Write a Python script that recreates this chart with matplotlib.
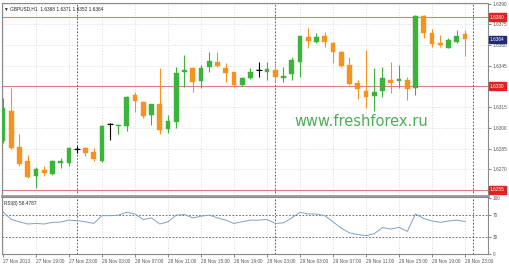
import matplotlib
matplotlib.use('Agg')
import matplotlib.pyplot as plt
import matplotlib.transforms as mtransforms
import numpy as np

plt.rcParams['font.family'] = ['Liberation Sans', 'DejaVu Sans']

# GBPUSD H1 bars, 27 Nov 15:00 .. 29 Nov 23:00
opens = [1.62907, 1.63125, 1.62863, 1.62761, 1.62652, 1.62696, 1.62667, 1.62747, 1.62747, 1.62849,
         1.62856, 1.62827, 1.62761, 1.63031, 1.63016, 1.63016, 1.63234, 1.63184, 1.63096, 1.63176,
         1.62994, 1.63045, 1.63402, 1.63431, 1.63336, 1.63438, 1.63475, 1.63431, 1.63402, 1.63307,
         1.63358, 1.63416, 1.63402, 1.63416, 1.63358, 1.63387, 1.63475, 1.63657, 1.63620, 1.63664,
         1.63613, 1.63548, 1.63453, 1.63322, 1.63264, 1.63227, 1.63264, 1.63344, 1.63336, 1.63344,
         1.63285, 1.63810, 1.63686, 1.63613, 1.63577, 1.63620, 1.63680]
highs = [1.63213, 1.63285, 1.62958, 1.62805, 1.62718, 1.62725, 1.62769, 1.62783, 1.62863, 1.62870,
         1.62863, 1.62856, 1.63023, 1.63038, 1.63031, 1.63227, 1.63256, 1.63191, 1.63169, 1.63431,
         1.63096, 1.63438, 1.63526, 1.63438, 1.63453, 1.63548, 1.63548, 1.63467, 1.63402, 1.63366,
         1.63431, 1.63475, 1.63475, 1.63467, 1.63438, 1.63511, 1.63664, 1.63722, 1.63686, 1.63693,
         1.63620, 1.63555, 1.63511, 1.63344, 1.63562, 1.63431, 1.63438, 1.63475, 1.63453, 1.63366,
         1.63817, 1.63817, 1.63715, 1.63671, 1.63650, 1.63708, 1.63710]
lows = [1.62892, 1.62850, 1.62725, 1.62638, 1.62565, 1.62652, 1.62660, 1.62710, 1.62725, 1.62820,
        1.62798, 1.62761, 1.62754, 1.62914, 1.62958, 1.62980, 1.63111, 1.63074, 1.63023, 1.62958,
        1.62965, 1.63002, 1.63293, 1.63256, 1.63285, 1.63402, 1.63438, 1.63329, 1.63293, 1.63300,
        1.63351, 1.63366, 1.63344, 1.63329, 1.63329, 1.63344, 1.63366, 1.63577, 1.63613, 1.63584,
        1.63467, 1.63438, 1.63307, 1.63205, 1.63147, 1.63125, 1.63220, 1.63249, 1.63285, 1.63198,
        1.63234, 1.63649, 1.63584, 1.63584, 1.63577, 1.63613, 1.63520]
closes = [1.63140, 1.62856, 1.62739, 1.62645, 1.62703, 1.62674, 1.62761, 1.62761, 1.62856, 1.62849,
          1.62820, 1.62776, 1.63016, 1.63031, 1.63023, 1.63220, 1.63191, 1.63082, 1.63169, 1.62987,
          1.63052, 1.63395, 1.63416, 1.63329, 1.63431, 1.63482, 1.63446, 1.63395, 1.63307, 1.63358,
          1.63402, 1.63416, 1.63424, 1.63366, 1.63373, 1.63489, 1.63664, 1.63628, 1.63657, 1.63620,
          1.63548, 1.63446, 1.63315, 1.63278, 1.63220, 1.63256, 1.63358, 1.63322, 1.63351, 1.63278,
          1.63810, 1.63686, 1.63606, 1.63598, 1.63635, 1.63664, 1.63640]
rsi = [76, 62, 58, 54, 55, 54, 57, 57.5, 61, 60,
       58, 55, 69, 69, 70, 75, 72, 62, 65, 54,
       58, 70, 71, 65, 68, 70, 65, 61, 55, 58,
       61, 61, 62, 55, 56, 65, 75, 72, 72, 69,
       58, 46.5, 38, 35, 33, 36.5, 47.6, 44.8, 48, 40.6,
       72, 64, 59.4, 57, 59.4, 61, 58.48]

time_labels = ['27 Nov 2013', '27 Nov 19:00', '27 Nov 23:00', '28 Nov 03:00', '28 Nov 07:00',
               '28 Nov 11:00', '28 Nov 15:00', '28 Nov 19:00', '28 Nov 23:00', '29 Nov 03:00',
               '29 Nov 07:00', '29 Nov 11:00', '29 Nov 15:00', '29 Nov 19:00', '29 Nov 23:00']
price_ticks = [1.6255, 1.6270, 1.6285, 1.6300, 1.6315, 1.6330, 1.6345, 1.6360, 1.6375, 1.6390]
red_levels = [1.6380, 1.6330, 1.6255]
day_breaks = [9, 33, 57]
last_price = 1.6364

GREEN = '#3cb43c'
ORANGE = '#f7921e'
GRID = '#d9d9d9'
FS = 3.4

n = len(opens)
x = np.arange(n)
o = np.array(opens); h = np.array(highs); l = np.array(lows); c = np.array(closes)
cols = np.where(c > o, GREEN, np.where(c < o, ORANGE, 'black'))

W, H = 510, 264
fig = plt.figure(figsize=(W / 100, H / 100), dpi=100, facecolor='white')
ax = fig.add_axes([2 / W, (H - 196) / H, 486 / W, 193 / H])
ax2 = fig.add_axes([2 / W, (H - 254) / H, 486 / W, 57 / H])

xlim = (-0.12, 58.79)
tick_idx = np.arange(0, n, 4)

# ---- price panel
ax.set_xlim(*xlim)
ax.set_ylim(1.62506, 1.63904)
for xi in tick_idx:
    ax.axvline(xi, color=GRID, lw=0.5, ls=(0, (2, 2)), zorder=0)
for p in price_ticks:
    ax.axhline(p, color=GRID, lw=0.5, ls=(0, (2, 2)), zorder=0)
for lv in red_levels:
    ax.axhline(lv, color='#d98080', lw=0.8, zorder=1)
for d in day_breaks:
    ax.axvline(d, color='#444444', lw=0.6, ls=(0, (2, 2)), zorder=1)

ax.vlines(x, l, h, colors=cols, lw=0.8, zorder=2)
body = np.abs(c - o)
ax.bar(x, np.where(body < 1e-6, 0, body), bottom=np.minimum(o, c), width=0.6,
       color=cols, edgecolor=cols, linewidth=0.3, zorder=3)
doji = body < 1e-6
ax.hlines(o[doji], x[doji] - 0.35, x[doji] + 0.35, colors='black', lw=0.8, zorder=3)

ax.set_xticks([])
ax.yaxis.tick_right()
ax.set_yticks(price_ticks)
# levels with a red tag show only the tag
ax.set_yticklabels(['' if p in red_levels else '%.4f' % p for p in price_ticks],
                   fontsize=FS, color='#333333')
ax.tick_params(axis='y', length=2, width=0.5, pad=1.5, colors='#555555')
for s in ax.spines.values():
    s.set_color('#8a8a8a')
    s.set_linewidth(0.8)
ax.spines['bottom'].set_linewidth(2.0)
ax.spines['bottom'].set_color('#9a9a9a')

tr = mtransforms.blended_transform_factory(ax.transAxes, ax.transData)
for lv in red_levels:
    ax.text(1.004, lv, '%.4f' % lv, transform=tr, fontsize=FS, color='white', va='center',
            ha='left', bbox=dict(boxstyle='square,pad=0.3', fc='#e02222', ec='#e02222'), zorder=5)
ax.text(1.004, last_price, '%.4f' % last_price, transform=tr, fontsize=FS, color='white',
        va='center', ha='left', bbox=dict(boxstyle='square,pad=0.3', fc='#1c2a78', ec='#1c2a78'), zorder=5)

ax.text(0.004, 0.985, '\u25bc GBPUSD,H1  1.6368 1.6371 1.6352 1.6364', transform=ax.transAxes,
        fontsize=FS, color='#222222', va='top', ha='left')
ax.text(0.602, 0.385, 'www.freshforex.ru', transform=ax.transAxes, fontsize=10.5,
        color='#4cae55', va='center', ha='left', family='DejaVu Sans')

# ---- RSI panel
ax2.set_xlim(*xlim)
ax2.set_ylim(2, 102.6)
for xi in tick_idx:
    ax2.axvline(xi, color=GRID, lw=0.5, ls=(0, (2, 2)), zorder=0)
for lv in [30, 70]:
    ax2.axhline(lv, color='#555555', lw=0.6, ls=(0, (2, 2)), zorder=1)
for d in day_breaks:
    ax2.axvline(d, color='#444444', lw=0.6, ls=(0, (2, 2)), zorder=1)
ax2.plot(x, rsi, color='#7ba3c8', lw=0.7, zorder=2)
ax2.yaxis.tick_right()
ax2.set_yticks([0, 30, 70, 100])
ax2.set_yticklabels(['0', '30', '70', '100'], fontsize=FS, color='#333333')
ax2.tick_params(axis='y', length=2, width=0.5, pad=1.5, colors='#555555')
ax2.set_xticks(tick_idx)
ax2.set_xticklabels(time_labels, fontsize=FS, color='#333333', ha='left')
ax2.tick_params(axis='x', length=2, width=0.5, pad=1.5, colors='#555555')
for s in ax2.spines.values():
    s.set_color('#8a8a8a')
    s.set_linewidth(0.8)
ax2.text(0.004, 0.93, 'RSI(8) 58.4787', transform=ax2.transAxes, fontsize=FS,
         color='#222222', va='top', ha='left')

fig.savefig('out.png', dpi=100, facecolor='white')
